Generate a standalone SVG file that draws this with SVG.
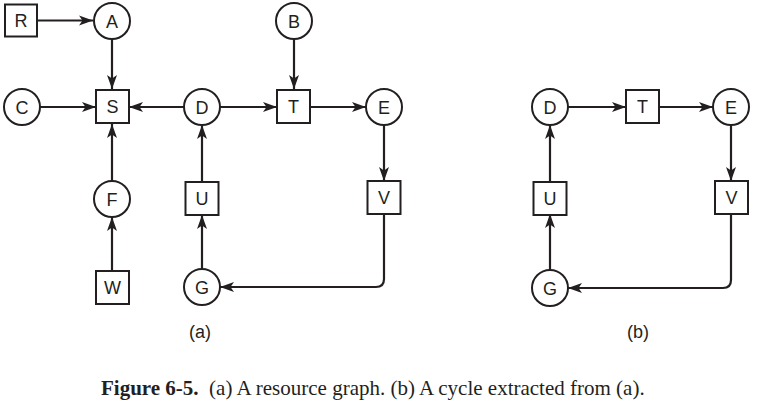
<svg xmlns="http://www.w3.org/2000/svg" width="757" height="403" viewBox="0 0 757 403">
<defs>
<marker id="arr" markerUnits="userSpaceOnUse" markerWidth="15" markerHeight="11" refX="14" refY="5.5" orient="auto">
<path d="M0,0.5 L14,5.5 L0,10.5 L3.5,5.5 Z" fill="#231f20"/>
</marker>
<style>
.n{fill:#fff;stroke:#231f20;stroke-width:2}
.t{font-family:"Liberation Sans",Arial,sans-serif;font-size:18px;fill:#231f20;text-anchor:middle}
.c{fill:none;stroke:#231f20;stroke-width:2.2;marker-end:url(#arr)}
.cap{font-family:"Liberation Serif","Times New Roman",serif;font-size:21px;fill:#231f20}
</style>
</defs>
<rect width="757" height="403" fill="#fff"/>
<g id="connectors">
<path class="c" d="M37,20.5 H93"/>
<path class="c" d="M112,39 V89"/>
<path class="c" d="M40,107 H96"/>
<path class="c" d="M184,107 H129"/>
<path class="c" d="M220,107 H277"/>
<path class="c" d="M294,39 V89"/>
<path class="c" d="M310,107 H366"/>
<path class="c" d="M384,125 V181"/>
<path class="c" d="M384,214 V279 Q384,287 376,287 H220"/>
<path class="c" d="M202,269 V215"/>
<path class="c" d="M202,182 V125"/>
<path class="c" d="M112,181 V124"/>
<path class="c" d="M112,271 V217"/>
<path class="c" d="M568,107 H626"/>
<path class="c" d="M659,107 H713"/>
<path class="c" d="M731,125 V181"/>
<path class="c" d="M731,214 V280 Q731,288 723,288 H568"/>
<path class="c" d="M550,270 V214"/>
<path class="c" d="M550,182 V125"/>
</g>
<g id="a-R"><rect class="n" x="5" y="4.5" width="32" height="32"/><text class="t" x="21" y="27">R</text></g>
<g id="a-A"><circle class="n" cx="112" cy="21" r="18"/><text class="t" x="112" y="27.5">A</text></g>
<g id="a-B"><circle class="n" cx="294" cy="21" r="18"/><text class="t" x="294" y="27.5">B</text></g>
<g id="a-C"><circle class="n" cx="22" cy="107" r="18"/><text class="t" x="22" y="113.5">C</text></g>
<g id="a-S"><rect class="n" x="96" y="90" width="33" height="33"/><text class="t" x="112.5" y="113">S</text></g>
<g id="a-D"><circle class="n" cx="202" cy="107" r="18"/><text class="t" x="202" y="113.5">D</text></g>
<g id="a-T"><rect class="n" x="277" y="90" width="33" height="33"/><text class="t" x="293.5" y="113">T</text></g>
<g id="a-E"><circle class="n" cx="384" cy="107" r="18"/><text class="t" x="384" y="113.5">E</text></g>
<g id="a-F"><circle class="n" cx="112" cy="199" r="18"/><text class="t" x="112" y="205.5">F</text></g>
<g id="a-U"><rect class="n" x="185.5" y="182" width="33" height="33"/><text class="t" x="202" y="205">U</text></g>
<g id="a-V"><rect class="n" x="367.5" y="181" width="33" height="33"/><text class="t" x="384" y="204">V</text></g>
<g id="a-W"><rect class="n" x="96" y="271" width="33" height="33"/><text class="t" x="112.5" y="294">W</text></g>
<g id="a-G"><circle class="n" cx="202" cy="287" r="18"/><text class="t" x="202" y="293.5">G</text></g>
<g id="b-D"><circle class="n" cx="550" cy="107" r="18"/><text class="t" x="550" y="113.5">D</text></g>
<g id="b-T"><rect class="n" x="626" y="90" width="33" height="33"/><text class="t" x="642.5" y="113">T</text></g>
<g id="b-E"><circle class="n" cx="731" cy="107" r="18"/><text class="t" x="731" y="113.5">E</text></g>
<g id="b-U"><rect class="n" x="533.5" y="182" width="33" height="33"/><text class="t" x="550" y="205">U</text></g>
<g id="b-V"><rect class="n" x="715" y="181" width="33" height="33"/><text class="t" x="731.5" y="204">V</text></g>
<g id="b-G"><circle class="n" cx="550" cy="288" r="18"/><text class="t" x="550" y="294.5">G</text></g>
<text class="t" x="200" y="338">(a)</text>
<text class="t" x="638" y="338">(b)</text>
<text class="cap" x="101" y="395" xml:space="preserve"><tspan font-weight="bold">Figure 6-5.</tspan>  (a) A resource graph. (b) A cycle extracted from (a).</text>
</svg>
